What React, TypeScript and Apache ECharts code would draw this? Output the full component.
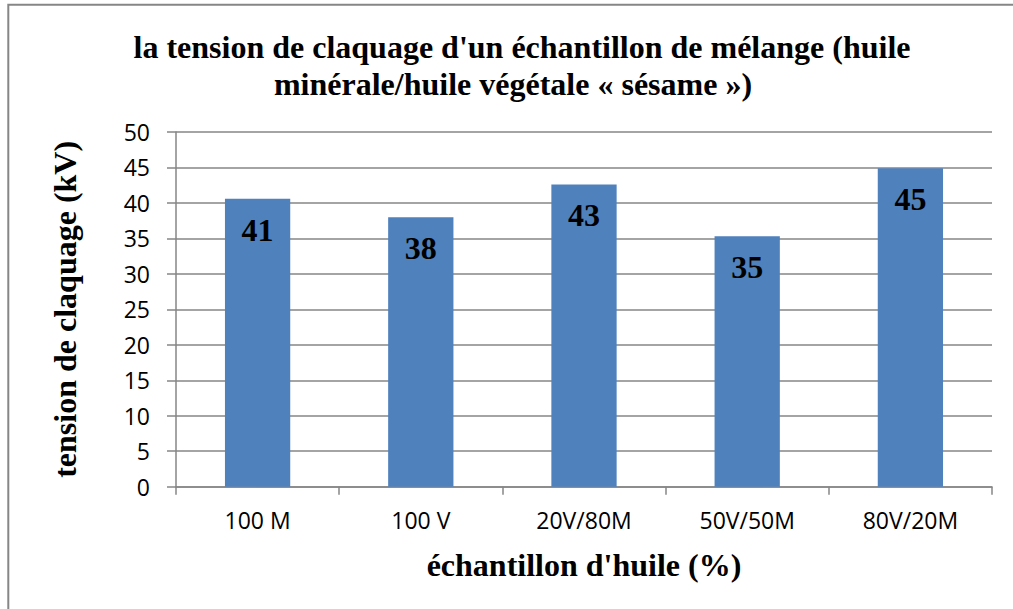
import React, { useEffect, useRef } from "react";
import * as echarts from "echarts";

const categories = ["100 M", "100 V", "20V/80M", "50V/50M", "80V/20M"];
const values = [40.6, 38.0, 42.6, 35.3, 44.9];
const valueLabels = ["41", "38", "43", "35", "45"];
const titleLines = [
  "la tension de claquage d'un échantillon de mélange (huile",
  "minérale/huile végétale « sésame »)",
];
const yAxisTitle = "tension de claquage (kV)";
const xAxisTitle = "échantillon d'huile (%)";

const SERIF = "'Liberation Serif', 'Times New Roman', serif";
const SANS = "'Open Sans', 'Noto Sans', sans-serif";
const GRAY = "#868686";

export default function App() {
  const ref = useRef<HTMLDivElement>(null);
  useEffect(() => {
    if (!ref.current) return;
    const chart = echarts.init(ref.current, undefined, { renderer: "svg" });
    chart.setOption({
      animation: false,
      backgroundColor: "#ffffff",
      graphic: [
        {
          type: "rect",
          shape: { x: 8.3, y: 4.8, width: 1100, height: 700 },
          style: { fill: "none", stroke: GRAY, lineWidth: 2 },
          silent: true,
        },
        {
          type: "text",
          x: 522,
          y: 47,
          style: {
            text: titleLines[0],
            align: "center",
            verticalAlign: "middle",
            font: `bold 32px ${SERIF}`,
            fill: "#000",
          },
        },
        {
          type: "text",
          x: 513,
          y: 84,
          style: {
            text: titleLines[1],
            align: "center",
            verticalAlign: "middle",
            font: `bold 32px ${SERIF}`,
            fill: "#000",
          },
        },
      ],
      grid: { left: 176, right: 21, top: 132, bottom: 122.3, containLabel: false },
      xAxis: {
        type: "category",
        data: categories,
        name: xAxisTitle,
        nameLocation: "middle",
        nameGap: 62,
        nameTextStyle: {
          fontFamily: SERIF,
          fontWeight: "bold",
          fontSize: 32,
          lineHeight: 32,
          color: "#000",
        },
        axisLine: { show: true, lineStyle: { color: GRAY, width: 1.5 } },
        axisTick: { show: true, length: 8, alignWithLabel: false, lineStyle: { color: GRAY, width: 1.5 } },
        axisLabel: { margin: 22, fontFamily: SANS, fontSize: 23, color: "#000" },
        splitLine: { show: false },
      },
      yAxis: {
        type: "value",
        min: 0,
        max: 50,
        interval: 5,
        name: yAxisTitle,
        nameLocation: "middle",
        nameGap: 95,
        nameTextStyle: {
          fontFamily: SERIF,
          fontWeight: "bold",
          fontSize: 32,
          lineHeight: 32,
          color: "#000",
        },
        axisLine: { show: true, lineStyle: { color: GRAY, width: 1.5 } },
        axisTick: { show: true, length: 9, inside: false, lineStyle: { color: GRAY, width: 1.5 } },
        axisLabel: { margin: 26, fontFamily: SANS, fontSize: 23, color: "#000" },
        splitLine: { show: true, lineStyle: { color: GRAY, width: 1.5 } },
      },
      series: [
        {
          type: "bar",
          data: values,
          barWidth: "40%",
          itemStyle: { color: "#4F81BD" },
          label: {
            show: true,
            position: "insideTop",
            distance: 15,
            formatter: (p: any) => valueLabels[p.dataIndex],
            fontFamily: SERIF,
            fontWeight: "bold",
            fontSize: 32,
            lineHeight: 32,
            color: "#000",
          },
        },
      ],
    });
    return () => chart.dispose();
  }, []);
  return (
    <div
      ref={ref}
      style={{ position: "absolute", left: 0, top: 0, width: 1013, height: 609 }}
    />
  );
}
